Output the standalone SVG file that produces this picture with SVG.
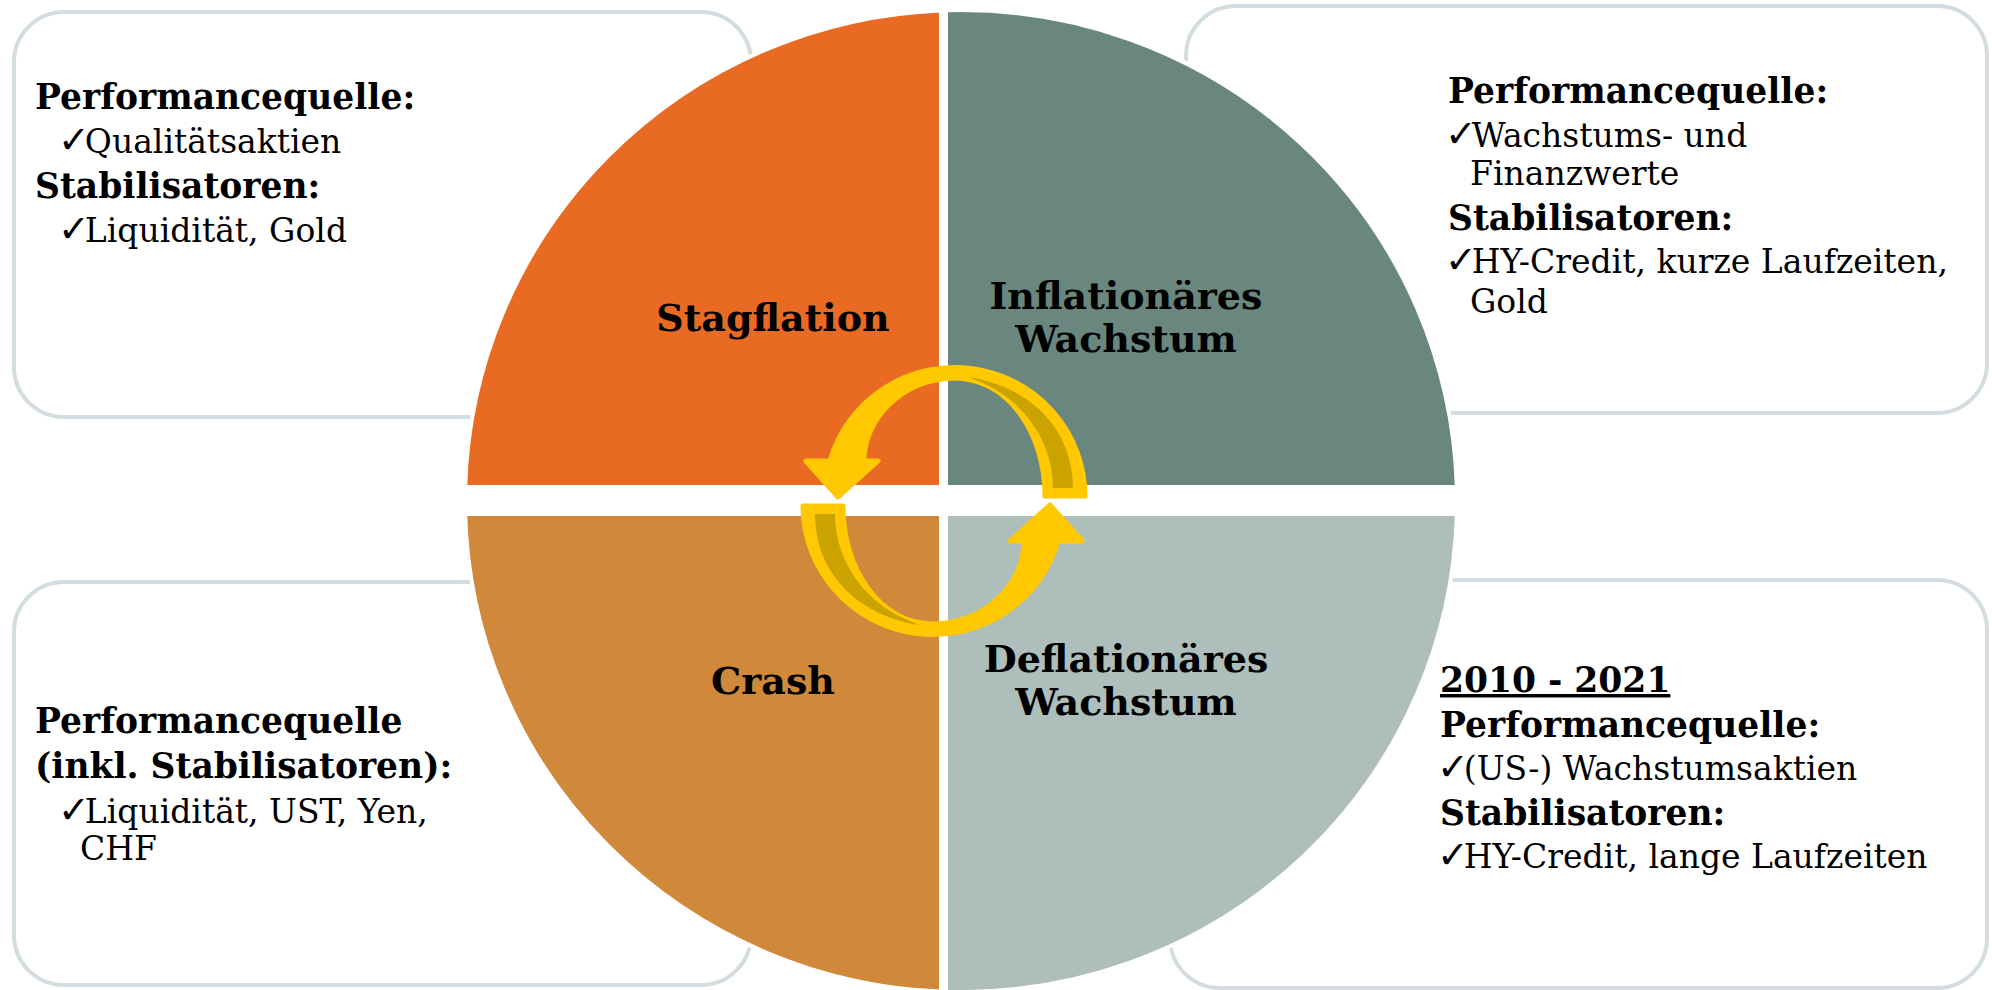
<svg xmlns="http://www.w3.org/2000/svg" width="1992" height="990" viewBox="0 0 1992 990">
<style>
.box{fill:#ffffff;stroke:#d3dce1;stroke-width:4}
.q{stroke:#ffffff;stroke-width:4}
.b{font-family:"DejaVu Serif","Liberation Serif",serif;font-weight:bold;font-size:34.5px;fill:#000}
.r{font-family:"DejaVu Serif","Liberation Serif",serif;font-size:33px;fill:#000}
.ck{font-family:"DejaVu Sans",sans-serif;font-size:38px;letter-spacing:-5px}
.lbl{font-family:"DejaVu Serif","Liberation Serif",serif;font-weight:bold;font-size:38px;fill:#000;text-anchor:middle}
.arr{fill:#ffc800;stroke:#ffc800;stroke-width:5;stroke-linejoin:round}
.back{fill:#cba300;stroke:none}
</style>
<rect width="1992" height="990" fill="#ffffff"/>
<g id="box-tl"><rect class="box" x="14" y="12" width="737" height="405" rx="50" ry="50"/>
<text class="b" x="35" y="109">Performancequelle:</text>
<text class="r" x="58" y="153"><tspan class="ck">✓</tspan>Qualitätsaktien</text>
<text class="b" x="35" y="198">Stabilisatoren:</text>
<text class="r" x="58" y="242"><tspan class="ck">✓</tspan>Liquidität, Gold</text>
</g>
<g id="box-tr"><rect class="box" x="1186" y="6" width="801" height="407" rx="50" ry="50"/>
<text class="b" x="1448" y="103">Performancequelle:</text>
<text class="r" x="1445" y="147"><tspan class="ck">✓</tspan>Wachstums- und</text>
<text class="r" x="1470" y="185">Finanzwerte</text>
<text class="b" x="1448" y="230">Stabilisatoren:</text>
<text class="r" x="1445" y="273"><tspan class="ck">✓</tspan>HY-Credit, kurze Laufzeiten,</text>
<text class="r" x="1470" y="313">Gold</text>
</g>
<g id="box-bl"><rect class="box" x="14" y="582" width="737" height="403" rx="50" ry="50"/>
<text class="b" x="35" y="733">Performancequelle</text>
<text class="b" x="35" y="778">(inkl. Stabilisatoren):</text>
<text class="r" x="58" y="823"><tspan class="ck">✓</tspan>Liquidität, UST, Yen,</text>
<text class="r" x="80" y="860">CHF</text>
</g>
<g id="box-br"><rect class="box" x="1170" y="580" width="817" height="408" rx="50" ry="50"/>
<text class="b" x="1440" y="692" text-decoration="underline">2010 - 2021</text>
<text class="b" x="1440" y="737">Performancequelle:</text>
<text class="r" x="1437" y="780"><tspan class="ck">✓</tspan>(US-) Wachstumsaktien</text>
<text class="b" x="1440" y="825">Stabilisatoren:</text>
<text class="r" x="1437" y="868"><tspan class="ck">✓</tspan>HY-Credit, lange Laufzeiten</text>
</g>
<g id="q-stagflation"><path class="q" fill="#e96a22" d="M941,487 L465.2,487 A496 491 0 0 1 941,10.4 Z"/>
<text class="lbl" x="773" y="331">Stagflation</text></g>
<g id="q-inflation"><path class="q" fill="#6a877f" d="M946,487 L946,10.2 A496 491 0 0 1 1456.8,487 Z"/>
<text class="lbl" x="1126" y="309">Inflationäres</text>
<text class="lbl" x="1126" y="352">Wachstum</text></g>
<g id="q-crash"><path class="q" fill="#d0883a" d="M941,514 L941,991.6 A496 491 0 0 1 465.2,514 Z"/>
<text class="lbl" x="773" y="694">Crash</text></g>
<g id="q-deflation"><path class="q" fill="#aebeba" d="M946,514 L1456.8,514 A496 491 0 0 1 946,991.8 Z"/>
<text class="lbl" x="1126" y="672">Deflationäres</text>
<text class="lbl" x="1126" y="715">Wachstum</text></g>
<g id="connectors">
<g id="arrow-top">
<path class="arr" d="M838,497 L878,461 L864,461 C864,420 900,380 953,378 C1010,378 1045,435 1045,496 L1085,496 A130 129 0 0 0 830,461 L806,461 Z"/>
<path class="back" d="M968,377 C1025,385 1073,425 1073,488 L1053,488 C1053,440 1022,395 968,377 Z"/>
</g>
<g id="arrow-bottom" transform="rotate(180 944 501)">
<path class="arr" d="M838,497 L878,461 L864,461 C864,420 900,380 953,378 C1010,378 1045,435 1045,496 L1085,496 A130 129 0 0 0 830,461 L806,461 Z"/>
<path class="back" d="M968,377 C1025,385 1073,425 1073,488 L1053,488 C1053,440 1022,395 968,377 Z"/>
</g>
</g>
</svg>
